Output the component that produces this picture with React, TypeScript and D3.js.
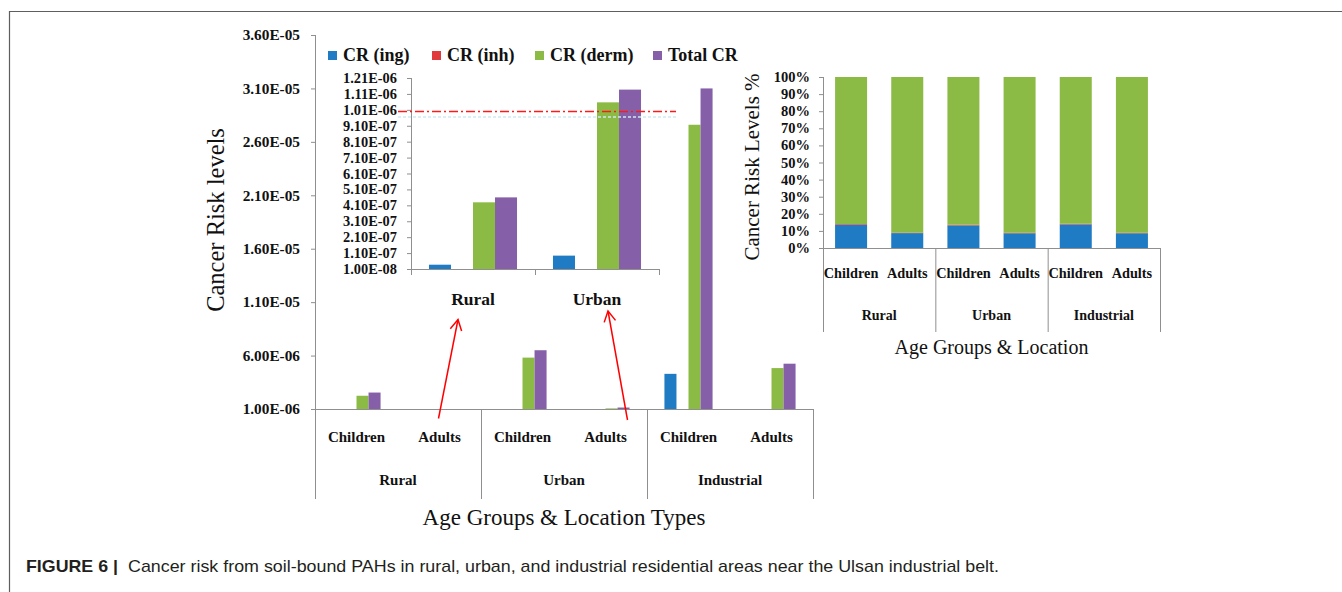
import React from "react";
import * as d3 from "d3";

// ---- data ----
const locations = ["Rural", "Urban", "Industrial"];
const ageGroups = ["Children", "Adults"];
const seriesNames = ["CR (ing)", "CR (inh)", "CR (derm)", "Total CR"];
const seriesColors = ["#1f7bc3", "#e03a3c", "#8cbb45", "#8560a8"];

// order: Rural-Children, Rural-Adults, Urban-Children, Urban-Adults, Industrial-Children, Industrial-Adults
const crIng = [3.4e-7, 3.7e-8, 8.6e-7, 9.4e-8, 4.29e-6, 4.6e-7];
const crInh = [9e-9, 1.3e-9, 2.3e-8, 3.5e-9, 1.1e-7, 1.7e-8];
const crDerm = [2.24e-6, 4.29e-7, 5.81e-6, 1.057e-6, 2.76e-5, 4.83e-6];
const totalCR = [2.54e-6, 4.6e-7, 6.5e-6, 1.137e-6, 3.1e-5, 5.24e-6];

const mainTicks = [1e-6, 6e-6, 1.1e-5, 1.6e-5, 2.1e-5, 2.6e-5, 3.1e-5, 3.6e-5];
const insetTicks = [1e-8, 1.1e-7, 2.1e-7, 3.1e-7, 4.1e-7, 5.1e-7, 6.1e-7, 7.1e-7, 8.1e-7, 9.1e-7, 1.01e-6, 1.11e-6, 1.21e-6];
const insetLocations = ["Rural", "Urban"];
const referenceLevel = 1.0e-6;

// share of each pathway in the total risk, %
const pctIng = [13.6, 8.7, 13.2, 8.6, 13.8, 8.6];
const pctInh = [0.4, 0.3, 0.4, 0.3, 0.4, 0.3];
const pctDerm = [86.0, 91.0, 86.4, 91.1, 85.8, 91.1];

const captionLead = "FIGURE 6 |";
const captionText =
  "Cancer risk from soil-bound PAHs in rural, urban, and industrial residential areas near the Ulsan industrial belt.";

// ---- helpers ----
const catKeys = locations.flatMap((l) => ageGroups.map((a) => `${l}|${a}`));
const seriesValues = [crIng, crInh, crDerm, totalCR];

const fmtSci = (v: number) => {
  const [m, e] = v.toExponential(2).split("e");
  const n = parseInt(e, 10);
  return `${m}E${n < 0 ? "-" : "+"}${String(Math.abs(n)).padStart(2, "0")}`;
};

const AXIS = "#8f8f8f";
const SERIF = "'Liberation Serif', 'Times New Roman', serif";

function arrowHead(tip: [number, number], tail: [number, number], len = 12, ang = 0.5) {
  const dx = tail[0] - tip[0];
  const dy = tail[1] - tip[1];
  const a = Math.atan2(dy, dx);
  const p1 = [tip[0] + len * Math.cos(a - ang), tip[1] + len * Math.sin(a - ang)];
  const p2 = [tip[0] + len * Math.cos(a + ang), tip[1] + len * Math.sin(a + ang)];
  return `M${p1[0]},${p1[1]}L${tip[0]},${tip[1]}L${p2[0]},${p2[1]}`;
}

export default function App() {
  // main chart
  const mTop = 35, mBottom = 409, mLeft = 315, mRight = 813, mFrameBottom = 499;
  const yMain = d3.scaleLinear().domain([mainTicks[0], mainTicks[mainTicks.length - 1]]).range([mBottom, mTop]);
  const xMain = d3.scaleBand().domain(catKeys).range([mLeft, mRight]);
  const bwMain = xMain.bandwidth();
  const xMainInner = d3
    .scaleBand()
    .domain(seriesNames)
    .range([bwMain * 0.21, bwMain * 0.79]);

  // inset chart
  const iTop = 78, iBottom = 269, iLeft = 411, iRight = 659;
  const yInset = d3.scaleLinear().domain([insetTicks[0], insetTicks[insetTicks.length - 1]]).range([iBottom, iTop]);
  const xInset = d3.scaleBand().domain(insetLocations).range([iLeft, iRight]);
  const bwInset = xInset.bandwidth();
  const xInsetInner = d3
    .scaleBand()
    .domain(seriesNames)
    .range([bwInset * 0.145, bwInset * 0.855]);

  // right percentage chart
  const rTop = 77, rBottom = 248, rLeft = 823, rRight = 1160, rFrameBottom = 332;
  const yRight = d3.scaleLinear().domain([0, 1]).range([rBottom, rTop]);
  const xRight = d3.scaleBand().domain(catKeys).range([rLeft, rRight]).paddingInner(0.43).paddingOuter(0.215);
  const stackRows = catKeys.map((k, i) => ({ key: k, ing: pctIng[i], inh: pctInh[i], derm: pctDerm[i] }));
  const stacked = d3.stack<any>().keys(["ing", "inh", "derm"]).offset(d3.stackOffsetExpand)(stackRows);
  const stackColors = [seriesColors[0], seriesColors[1], seriesColors[2]];
  const rStep = xRight.step();

  const groupBounds = (scale: d3.ScaleBand<string>, loc: string, step: number) => {
    const keys = catKeys.filter((k) => k.startsWith(loc + "|"));
    const x0 = (scale(keys[0]) as number) - (step - scale.bandwidth()) / 2;
    const x1 = (scale(keys[keys.length - 1]) as number) + scale.bandwidth() + (step - scale.bandwidth()) / 2;
    return [x0, x1];
  };

  const legendX = [328, 432, 535, 653];

  // annotation arrows from adult categories to the inset labels
  const ruralTail: [number, number] = [(xMain("Rural|Adults") as number) + bwMain / 2 - 1, 418.5];
  const ruralTip: [number, number] = [(xInset("Rural") as number) + bwInset / 2 - 15, 319.5];
  const urbanTail: [number, number] = [(xMain("Urban|Adults") as number) + bwMain / 2 + 22, 420];
  const urbanTip: [number, number] = [(xInset("Urban") as number) + bwInset / 2 + 11, 311];

  return (
    <svg
      width={1342}
      height={592}
      viewBox="0 0 1342 592"
      style={{ position: "absolute", left: 0, top: 0, background: "#fff" }}
      fontFamily={SERIF}
    >
      {/* figure frame */}
      <path d="M9.5,592 V11.5 H1342" fill="none" stroke="#5e5e5e" strokeWidth={1.2} />

      {/* ===== main chart ===== */}
      <g>
        {catKeys.map((k, i) => (
          <g key={k} transform={`translate(${xMain(k)},0)`}>
            {seriesNames.map((s, si) => {
              const v = seriesValues[si][i];
              const y0 = yMain(mainTicks[0]);
              const y1 = yMain(v);
              if (y1 >= y0) return null;
              return (
                <rect
                  key={s}
                  x={xMainInner(s)}
                  y={y1}
                  width={xMainInner.bandwidth()}
                  height={y0 - y1}
                  fill={seriesColors[si]}
                />
              );
            })}
          </g>
        ))}
        {/* y axis */}
        <line x1={mLeft + 0.5} x2={mLeft + 0.5} y1={mTop} y2={mFrameBottom} stroke={AXIS} />
        {mainTicks.map((t) => (
          <g key={t}>
            <line x1={mLeft - 4} x2={mLeft} y1={yMain(t) + 0.5} y2={yMain(t) + 0.5} stroke={AXIS} />
            <text x={300} y={yMain(t)} dy="0.35em" textAnchor="end" fontSize={15.3} fontWeight="bold" fill="#111">
              {fmtSci(t)}
            </text>
          </g>
        ))}
        {/* x axis with grouped category frame */}
        <line x1={mLeft} x2={mRight} y1={mBottom + 0.5} y2={mBottom + 0.5} stroke={AXIS} />
        {locations.map((loc) => {
          const [x0, x1] = groupBounds(xMain, loc, xMain.step());
          return (
            <g key={loc}>
              <line x1={x1 + 0.5} x2={x1 + 0.5} y1={mBottom} y2={mFrameBottom} stroke={AXIS} />
              <text x={(x0 + x1) / 2} y={485} textAnchor="middle" fontSize={15} fontWeight="bold" fill="#111">
                {loc}
              </text>
            </g>
          );
        })}
        {catKeys.map((k) => (
          <text
            key={k}
            x={(xMain(k) as number) + bwMain / 2}
            y={442}
            textAnchor="middle"
            fontSize={15}
            fontWeight="bold"
            fill="#111"
          >
            {k.split("|")[1]}
          </text>
        ))}
        <text x={(mLeft + mRight) / 2} y={525} textAnchor="middle" fontSize={23} fill="#111">
          Age Groups &amp; Location Types
        </text>
        <text
          transform={`translate(215,220) rotate(-90)`}
          textAnchor="middle"
          dy="0.35em"
          fontSize={24.5}
          fill="#111"
        >
          Cancer Risk levels
        </text>
      </g>

      {/* ===== legend ===== */}
      {seriesNames.map((s, i) => (
        <g key={s}>
          <rect x={legendX[i]} y={51} width={9} height={9} fill={seriesColors[i]} />
          <text x={legendX[i] + 15} y={61} fontSize={18} fontWeight="bold" fill="#111">
            {s}
          </text>
        </g>
      ))}

      {/* ===== inset: adults, rural and urban ===== */}
      <g>
        {insetLocations.map((loc) => {
          const idx = catKeys.indexOf(`${loc}|Adults`);
          return (
            <g key={loc} transform={`translate(${xInset(loc)},0)`}>
              {seriesNames.map((s, si) => {
                const v = seriesValues[si][idx];
                const y0 = yInset(insetTicks[0]);
                const y1 = yInset(v);
                if (y1 >= y0) return null;
                return (
                  <rect
                    key={s}
                    x={xInsetInner(s)}
                    y={y1}
                    width={xInsetInner.bandwidth()}
                    height={y0 - y1}
                    fill={seriesColors[si]}
                  />
                );
              })}
            </g>
          );
        })}
        <line x1={iLeft + 0.5} x2={iLeft + 0.5} y1={iTop} y2={iBottom + 6} stroke={AXIS} />
        {insetTicks.map((t) => (
          <g key={t}>
            <line x1={iLeft - 4} x2={iLeft} y1={yInset(t) + 0.5} y2={yInset(t) + 0.5} stroke={AXIS} />
            <text x={397} y={yInset(t)} dy="0.35em" textAnchor="end" fontSize={14.4} fontWeight="bold" fill="#111">
              {fmtSci(t)}
            </text>
          </g>
        ))}
        <line x1={iLeft} x2={iRight} y1={iBottom + 0.5} y2={iBottom + 0.5} stroke={AXIS} />
        {insetLocations.map((loc) => {
          const x1 = (xInset(loc) as number) + bwInset;
          return (
            <g key={loc}>
              <line x1={x1 + 0.5} x2={x1 + 0.5} y1={iBottom} y2={iBottom + 6} stroke={AXIS} />
              <text
                x={(xInset(loc) as number) + bwInset / 2}
                y={305}
                textAnchor="middle"
                fontSize={17.5}
                fontWeight="bold"
                fill="#111"
              >
                {loc}
              </text>
            </g>
          );
        })}
        {/* reference risk level */}
        <line
          x1={398}
          x2={676}
          y1={yInset(referenceLevel) + 5.5}
          y2={yInset(referenceLevel) + 5.5}
          stroke="#cfe8f2"
          strokeWidth={1.5}
          strokeDasharray="3,2"
        />
        <line
          x1={398}
          x2={676}
          y1={yInset(referenceLevel)}
          y2={yInset(referenceLevel)}
          stroke="#ff1a1a"
          strokeWidth={1.5}
          strokeDasharray="9,3,2,3"
        />
      </g>

      {/* annotation arrows */}
      {[
        [ruralTail, ruralTip],
        [urbanTail, urbanTip],
      ].map(([tail, tip], i) => (
        <g key={i} stroke="#ff0000" strokeWidth={1.5} fill="none">
          <line x1={tail[0]} y1={tail[1]} x2={tip[0]} y2={tip[1]} />
          <path d={arrowHead(tip as [number, number], tail as [number, number])} />
        </g>
      ))}

      {/* ===== right: percentage contribution ===== */}
      <g>
        {stacked.map((layer, li) => (
          <g key={layer.key} fill={stackColors[li]}>
            {layer.map((d: any, i: number) => (
              <rect
                key={i}
                x={xRight(d.data.key)}
                y={yRight(d[1])}
                width={xRight.bandwidth()}
                height={yRight(d[0]) - yRight(d[1])}
              />
            ))}
          </g>
        ))}
        <line x1={rLeft + 0.5} x2={rLeft + 0.5} y1={rTop} y2={rFrameBottom} stroke={AXIS} />
        {yRight.ticks(10).map((t) => (
          <g key={t}>
            <line x1={rLeft - 4} x2={rLeft} y1={yRight(t) + 0.5} y2={yRight(t) + 0.5} stroke={AXIS} />
            <text x={810} y={yRight(t)} dy="0.35em" textAnchor="end" fontSize={14.5} fontWeight="bold" fill="#111">
              {d3.format(".0%")(t)}
            </text>
          </g>
        ))}
        <line x1={rLeft} x2={rRight} y1={rBottom + 0.5} y2={rBottom + 0.5} stroke={AXIS} />
        {locations.map((loc) => {
          const [x0, x1] = groupBounds(xRight, loc, rStep);
          return (
            <g key={loc}>
              <line x1={x1 + 0.5} x2={x1 + 0.5} y1={rBottom} y2={rFrameBottom} stroke={AXIS} />
              <text x={(x0 + x1) / 2} y={320} textAnchor="middle" fontSize={14} fontWeight="bold" fill="#111">
                {loc}
              </text>
            </g>
          );
        })}
        {catKeys.map((k) => (
          <text
            key={k}
            x={(xRight(k) as number) + xRight.bandwidth() / 2}
            y={278}
            textAnchor="middle"
            fontSize={14.3}
            fontWeight="bold"
            fill="#111"
          >
            {k.split("|")[1]}
          </text>
        ))}
        <text x={(rLeft + rRight) / 2} y={354} textAnchor="middle" fontSize={20} fill="#111">
          Age Groups &amp; Location
        </text>
        <text transform={`translate(752,167) rotate(-90)`} textAnchor="middle" dy="0.35em" fontSize={21} fill="#111">
          Cancer Risk Levels %
        </text>
      </g>

      {/* caption */}
      <g fontFamily="'Liberation Sans', Arial, sans-serif" fill="#231f20">
        <text x={26} y={572} fontSize={17} fontWeight="bold" textLength={92} lengthAdjust="spacingAndGlyphs">
          {captionLead}
        </text>
        <text x={128} y={572} fontSize={17} textLength={871} lengthAdjust="spacingAndGlyphs">
          {captionText}
        </text>
      </g>
    </svg>
  );
}
